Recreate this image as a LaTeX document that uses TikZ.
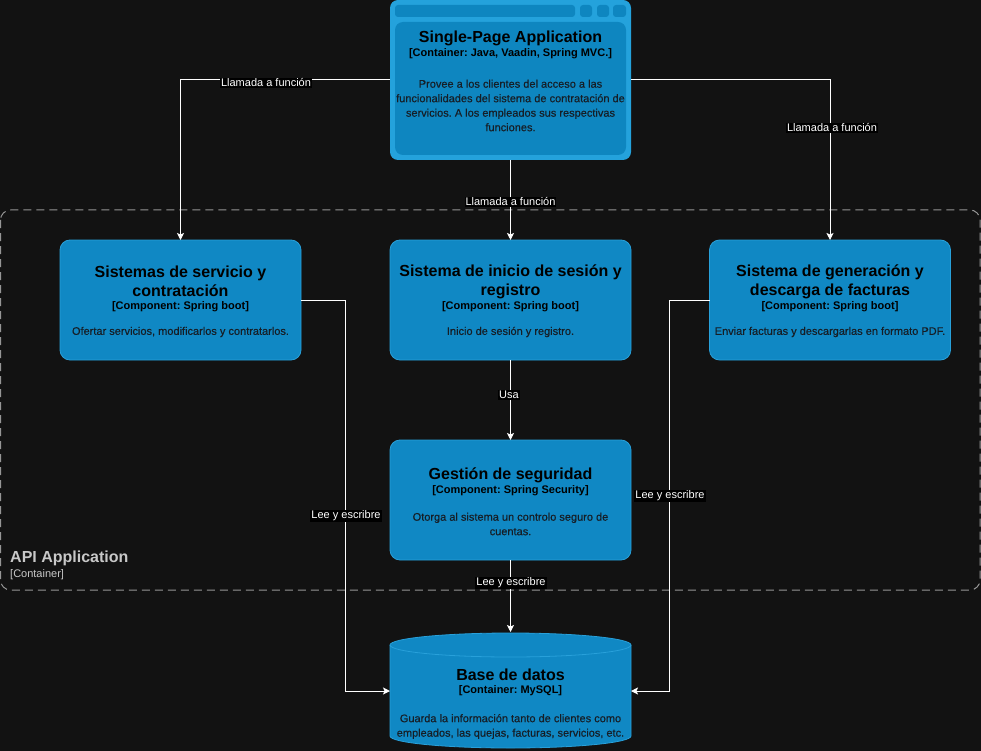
\documentclass[tikz,border=0pt]{standalone}
\usepackage{fontspec}
\setmainfont{Liberation Sans}
\usetikzlibrary{arrows.meta,calc}

\definecolor{bgc}{RGB}{18,18,18}
\definecolor{compfill}{RGB}{16,136,196}
\definecolor{compline}{RGB}{40,160,218}
\definecolor{spaouter}{RGB}{36,162,220}
\definecolor{spainner}{RGB}{14,134,192}
\definecolor{desccol}{RGB}{22,30,38}
\definecolor{boundcol}{RGB}{150,150,150}
\definecolor{boundtxt}{RGB}{200,200,200}

\tikzset{
  compbox/.style={draw=compline, line width=0.8pt, fill=compfill, rounded corners=10pt,
    minimum width=241pt, minimum height=120pt, inner sep=0pt, outer sep=0pt},
  ttl/.style={font=\fontsize{16}{19}\selectfont\bfseries, text=black, align=center, inner sep=0pt},
  sub/.style={font=\fontsize{11}{13}\selectfont\bfseries, text=black, align=center, inner sep=0pt},
  desc/.style={font=\fontsize{11}{14.5}\selectfont\addfontfeature{FakeBold=0.4}, text=desccol, align=center, inner sep=0pt},
  conn/.style={draw=white, line width=1pt, -{Stealth[length=7pt,width=7pt,inset=1.5pt]}},
  lbl/.style={fill=black, text=white, font=\fontsize{11}{13}\selectfont, inner sep=1pt}
}

\begin{document}
\frenchspacing
\begin{tikzpicture}[x=1pt,y=-1pt]
\useasboundingbox[fill=bgc] (0,0) rectangle (981,751);

% API Application boundary
\draw[boundcol, line width=1pt, dash pattern=on 8pt off 5pt, rounded corners=10pt]
  (0.5,210) rectangle (980,590);
\node[anchor=west, inner sep=0pt, text=boundtxt, font=\fontsize{16}{19}\selectfont\bfseries] (apiname) at (10,558) {API Application};
\node[anchor=west, inner sep=0pt, text=boundtxt, font=\fontsize{11}{13}\selectfont] (apitype) at (10,575) {[Container]};

% Single-Page Application (browser window)
\node[fill=spaouter, rounded corners=8pt, minimum width=241pt, minimum height=160pt, inner sep=0pt, outer sep=0pt] (spa) at (510.5,80) {};
\fill[spainner, rounded corners=3pt] (395,5) rectangle (575,17);
\fill[spainner, rounded corners=3pt] (580,5) rectangle (592,17);
\fill[spainner, rounded corners=3pt] (597,5) rectangle (609,17);
\fill[spainner, rounded corners=3pt] (613,5) rectangle (626,17);
\fill[spainner, rounded corners=8pt] (395,22) rectangle (626,155);
\node[ttl] (spat) at (510.5,38) {Single-Page Application};
\node[sub] (spas) at (510.5,54) {[Container: Java, Vaadin, Spring MVC.]};
\node[desc] (spad) at (510.5,105.5) {Provee a los clientes del acceso a las\\funcionalidades del sistema de contratación de\\servicios. A los empleados sus respectivas\\funciones.};

% Components
\node[compbox] (svc) at (180.5,300) {};
\node[ttl] at (180.5,281.5) {Sistemas de servicio y\\contratación};
\node[sub] at (180.5,307) {[Component: Spring boot]};
\node[desc] at (180.5,332) {Ofertar servicios, modificarlos y contratarlos.};

\node[compbox] (login) at (510.5,300) {};
\node[ttl] at (510.5,281.5) {Sistema de inicio de sesión y\\registro};
\node[sub] at (510.5,307) {[Component: Spring boot]};
\node[desc] at (510.5,332) {Inicio de sesión y registro.};

\node[compbox] (inv) at (830,300) {};
\node[ttl] at (830,281.5) {Sistema de generación y\\descarga de facturas};
\node[sub] at (830,307) {[Component: Spring boot]};
\node[desc] at (830,332) {Enviar facturas y descargarlas en formato PDF.};

\node[compbox] (sec) at (510.5,500) {};
\node[ttl] at (510.5,475) {Gestión de seguridad};
\node[sub] at (510.5,491) {[Component: Spring Security]};
\node[desc] at (510.5,524) {Otorga al sistema un controlo seguro de\\cuentas.};

% Database (cylinder)
\node[minimum width=241pt, minimum height=118pt, inner sep=0pt, outer sep=0pt] (db) at (510.5,691) {};
\filldraw[fill=compfill, draw=compline, line width=0.8pt]
  (390,645) -- (390,736) arc[start angle=180, end angle=360, x radius=120.5pt, y radius=12pt]
  -- (631,645) arc[start angle=0, end angle=180, x radius=120.5pt, y radius=12pt] -- cycle;
\draw[compline, line width=0.8pt] (390,645) arc[start angle=180, end angle=360, x radius=120.5pt, y radius=12pt];
\node[ttl] at (510.5,675) {Base de datos};
\node[sub] at (510.5,691) {[Container: MySQL]};
\node[desc] at (510.5,726.5) {Guarda la información tanto de clientes como\\empleados, las quejas, facturas, servicios, etc.};

% Connectors
\draw[conn] (spa.west) -| (svc.north);
\draw[conn] (spa.east) -| (inv.north);
\draw[conn] (spa.south) -- (login.north);
\draw[conn] (login.south) -- (sec.north);
\draw[conn] (sec.south) -- (db.north);
\draw[conn] (svc.east) -- ++(44.5,0) |- (db.west);
\draw[conn] (inv.west) -- ++(-40,0) |- (db.east);

% Connector labels
\node[lbl] at (266,83) {Llamada a función};
\node[lbl] at (832,128) {Llamada a función};
\node[lbl] at (510.5,202) {Llamada a función};
\node[lbl] at (509,395) {Usa};
\node[lbl] at (346,516) {Lee y escribre};
\node[lbl] at (670,496) {Lee y escribre};
\node[lbl] at (511,583) {Lee y escribre};
\end{tikzpicture}
\end{document}
